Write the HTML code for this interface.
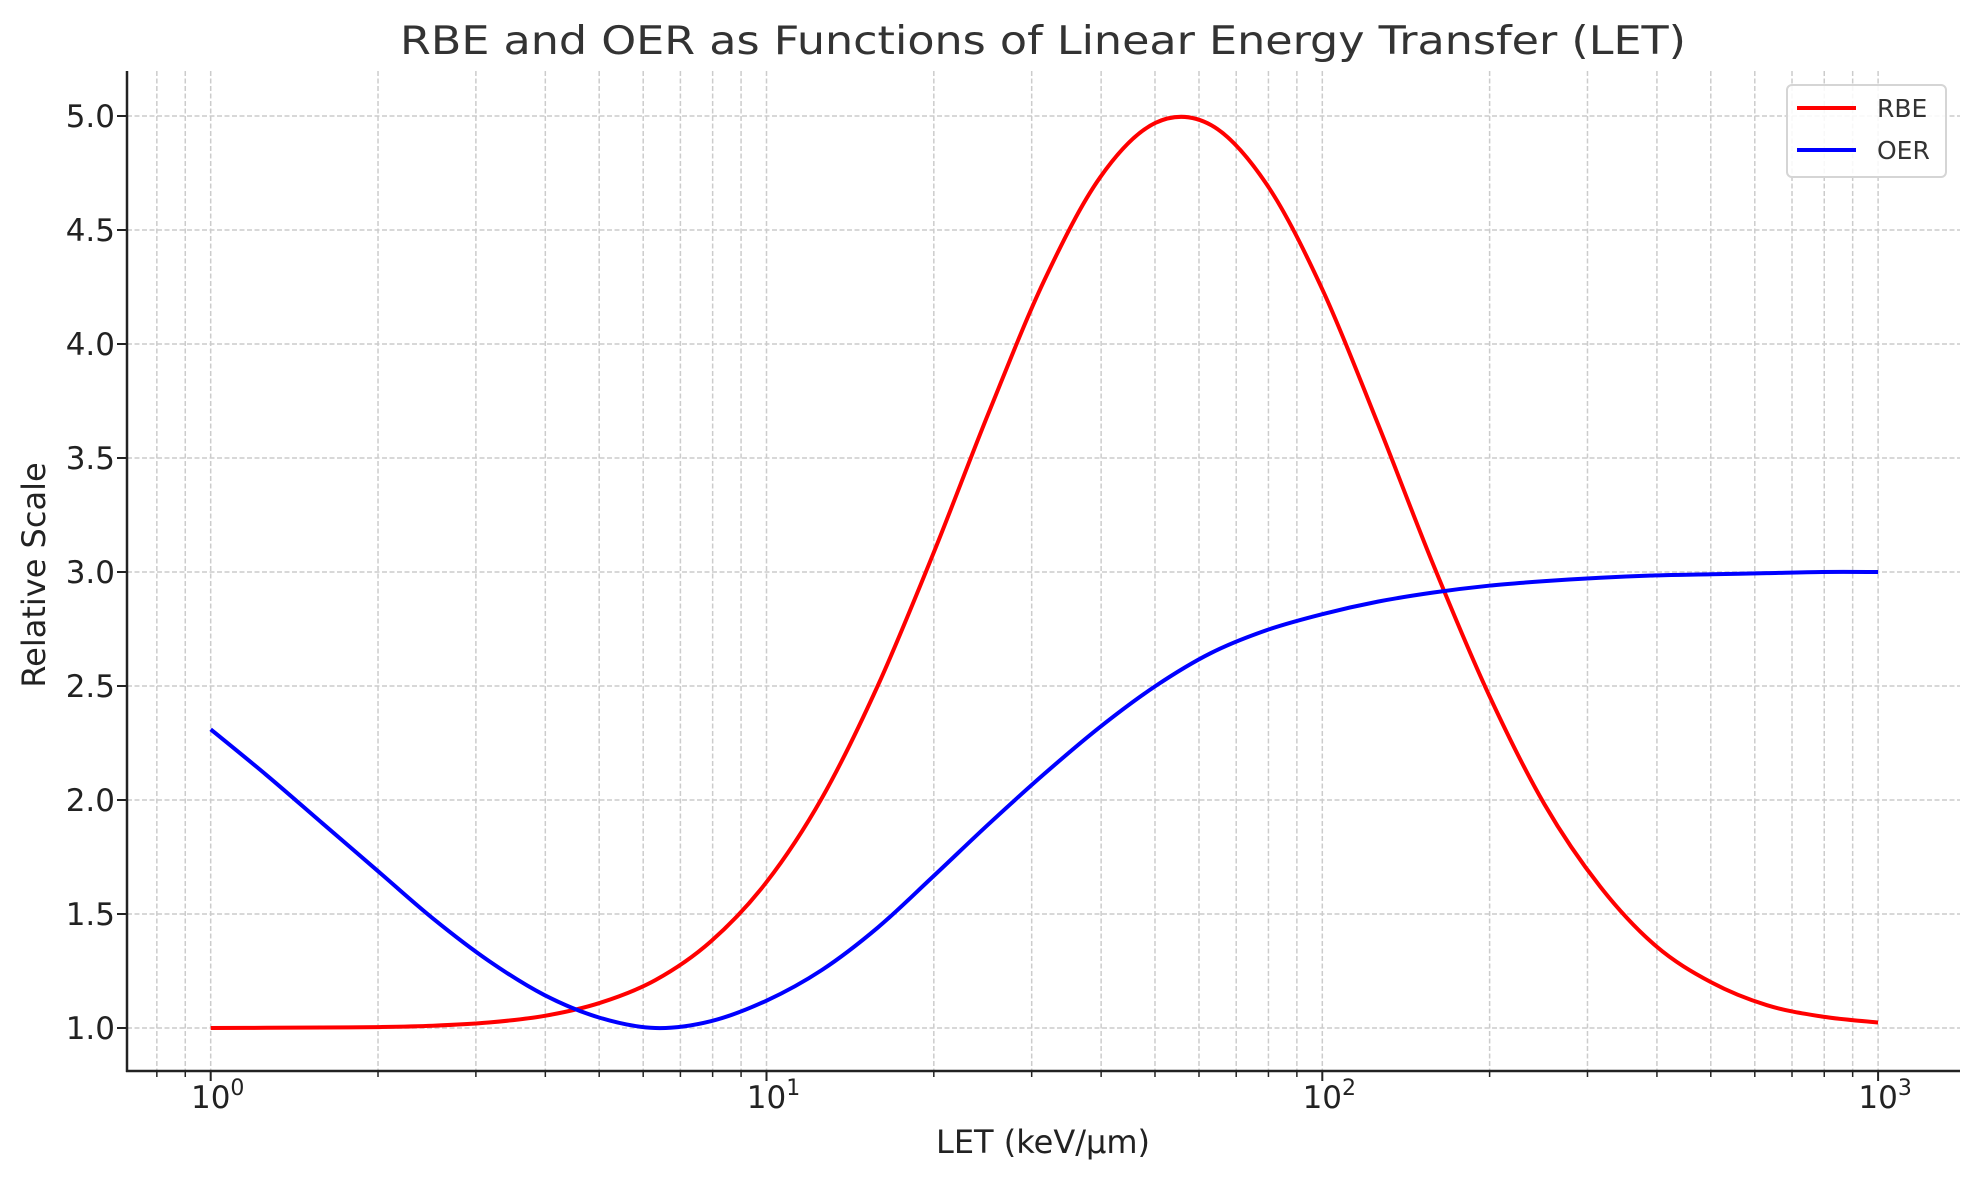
<!DOCTYPE html>
<html><head><meta charset="utf-8"><style>
html,body{margin:0;padding:0;background:#fff;}
svg{display:block;font-family:"DejaVu Sans","Liberation Sans",sans-serif;}
</style></head><body>
<svg id="chart" width="1980" height="1180" viewBox="0 0 1980 1180" xmlns="http://www.w3.org/2000/svg">
<rect width="1980" height="1180" fill="#fff"/>
<g id="grid"></g>
<g id="series"></g>
<g id="axes"></g>
<text x="1043" y="54" text-anchor="middle" font-size="39" fill="#333" textLength="1286" lengthAdjust="spacingAndGlyphs">RBE and OER as Functions of Linear Energy Transfer (LET)</text>
<text x="1043" y="1153" text-anchor="middle" font-size="32" fill="#222">LET (keV/μm)</text>
<text x="0" y="0" transform="translate(45,575) rotate(-90)" text-anchor="middle" font-size="32" fill="#222">Relative Scale</text>
<g>
<rect x="1787" y="85" width="159" height="92" rx="5" fill="#fff" fill-opacity="0.85" stroke="#d5d5d5" stroke-width="2"/>
<g>
<line x1="1797" y1="108" x2="1856" y2="108" stroke="#ff0000" stroke-width="4"/>
<text x="1877" y="117" font-size="25" fill="#333">RBE</text></g>
<g>
<line x1="1797" y1="150" x2="1856" y2="150" stroke="#0000ff" stroke-width="4"/>
<text x="1877" y="159" font-size="25" fill="#333">OER</text></g>
</g>
</svg>
<script>
// log10 of LET sample points (LET = 10^u, 1..1000 keV/um)
const letLog = [0,0.1,0.2,0.3,0.4,0.5,0.6,0.7,0.8,0.9,1.0,1.1,1.2,1.3,1.4,1.5,1.6,1.7,1.8,1.9,2.0,2.1,2.2,2.3,2.4,2.5,2.6,2.7,2.8,2.9,3.0];
const rbeValues = [1.000,1.001,1.002,1.004,1.010,1.024,1.053,1.11,1.21,1.38,1.64,2.01,2.50,3.08,3.70,4.28,4.73,4.97,4.96,4.70,4.24,3.65,3.03,2.46,1.98,1.62,1.36,1.20,1.10,1.05,1.024];
const oerValues = [2.31,2.11,1.90,1.69,1.48,1.295,1.145,1.045,1.00,1.03,1.12,1.255,1.44,1.665,1.895,2.115,2.32,2.50,2.645,2.745,2.815,2.87,2.91,2.94,2.96,2.975,2.985,2.99,2.995,3.0,3.0];
const yTicks = [1.0,1.5,2.0,2.5,3.0,3.5,4.0,4.5,5.0];
const yTickLabels = ["1.0","1.5","2.0","2.5","3.0","3.5","4.0","4.5","5.0"];
const xDecades = [0,1,2,3];

const NS = "http://www.w3.org/2000/svg";
const X0 = 210.7, DEC = 555.8;
const AX_L = 127, AX_R = 1960, AX_T = 71, AX_B = 1071;
function xScale(u){ return X0 + u*DEC; }
function yScale(v){ return 116 + (5 - v)*228; }
function mk(tag, attrs, parent){ const e=document.createElementNS(NS,tag); for(const k in attrs) e.setAttribute(k,attrs[k]); parent.appendChild(e); return e; }
const grid=document.getElementById('grid'), axes=document.getElementById('axes'), series=document.getElementById('series');

const uMin=(AX_L-X0)/DEC, uMax=(AX_R-X0)/DEC;
for(let d=-1; d<=3; d++){
  for(let m=1;m<=9;m++){
    const u=d+Math.log10(m);
    if(u<uMin||u>uMax) continue;
    const x=xScale(u);
    const gl=mk('line',{x1:x,y1:AX_T,x2:x,y2:AX_B,stroke:'#cccccc','stroke-width':1.5,'stroke-dasharray':'5,2.5'},grid);
    
    
    const tk=mk('line',{x1:x,y1:AX_B,x2:x,y2:AX_B+(m===1?10:6),stroke:'#222','stroke-width':m===1?2:1.5},axes);
    
    
  }
}
yTicks.forEach((v,i)=>{
  const y=yScale(v);
  const gl=mk('line',{x1:AX_L,y1:y,x2:AX_R,y2:y,stroke:'#cccccc','stroke-width':1.5,'stroke-dasharray':'5,2.5'},grid);
  
  
  const tk=mk('line',{x1:AX_L-10,y1:y,x2:AX_L,y2:y,stroke:'#222','stroke-width':2},axes);
  
  
  const t=mk('text',{x:AX_L-12,y:y+11,'text-anchor':'end','font-size':31,fill:'#222'},axes);
  t.textContent=yTickLabels[i];
  
  
});
xDecades.forEach(d=>{
  const x=xScale(d);
  const t=mk('text',{x:x+7,y:1108,'text-anchor':'middle','font-size':31,fill:'#222'},axes);
  t.textContent='10';
  const s=mk('tspan',{dy:-13,'font-size':22},t);
  s.textContent=String(d);
  
  
});
const sl=mk('line',{x1:AX_L,y1:AX_T,x2:AX_L,y2:AX_B+1,stroke:'#222','stroke-width':2.5},axes);


const sb=mk('line',{x1:AX_L-1,y1:AX_B,x2:AX_R,y2:AX_B,stroke:'#222','stroke-width':2.5},axes);



function pathFrom(xs, ys){
  const p=xs.map((u,i)=>[xScale(u),yScale(ys[i])]);
  let d='M'+p[0][0].toFixed(2)+','+p[0][1].toFixed(2);
  for(let i=0;i<p.length-1;i++){
    const p0=p[Math.max(0,i-1)],p1=p[i],p2=p[i+1],p3=p[Math.min(p.length-1,i+2)];
    const c1=[p1[0]+(p2[0]-p0[0])/6,p1[1]+(p2[1]-p0[1])/6];
    const c2=[p2[0]-(p3[0]-p1[0])/6,p2[1]-(p3[1]-p1[1])/6];
    d+=' C'+c1[0].toFixed(2)+','+c1[1].toFixed(2)+' '+c2[0].toFixed(2)+','+c2[1].toFixed(2)+' '+p2[0].toFixed(2)+','+p2[1].toFixed(2);
  }
  return d;
}
const rbe=mk('path',{d:pathFrom(letLog,rbeValues),fill:'none',stroke:'#ff0000','stroke-width':4,'stroke-linejoin':'round'},series);


const oer=mk('path',{d:pathFrom(letLog,oerValues),fill:'none',stroke:'#0000ff','stroke-width':4,'stroke-linejoin':'round'},series);


</script>
</body></html>
